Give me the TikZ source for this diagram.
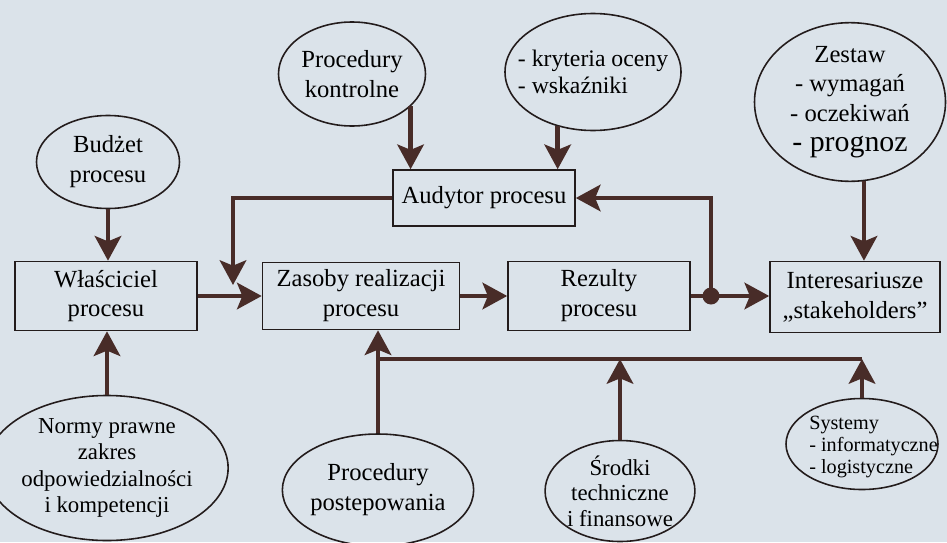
\documentclass[tikz,border=0pt]{standalone}
\usepackage{fontspec}
\setmainfont{Liberation Serif}
\usetikzlibrary{shapes.geometric,arrows.meta}
\definecolor{tlo}{RGB}{219,227,234}
\definecolor{strzalka}{RGB}{72,44,40}
\definecolor{ramka}{RGB}{35,28,28}

\begin{document}
\begin{tikzpicture}
	\tikzstyle{box}=[draw=ramka,line width=0.9pt,minimum width=3.64cm,minimum height=1.38cm,align=center,font=\fontsize{14}{17}\selectfont]
	\tikzstyle{oval}=[ellipse,draw=ramka,line width=0.9pt,inner sep=0pt,align=center,font=\fontsize{14}{17}\selectfont]
	\tikzstyle{edge}=[draw=strzalka,line width=2.6pt,-{Stealth[length=14pt,width=15pt,inset=3pt]}]
	\tikzstyle{bus}=[draw=strzalka,line width=2.6pt]

	\fill[tlo] (0,0) rectangle (18.94,10.84);
	\useasboundingbox (0,0) rectangle (18.94,10.84);

	% prostokaty
	\node [box] (wlasc) at (2.12,4.92) {Właściciel\\procesu};
	\node [box,minimum width=3.94cm,minimum height=1.34cm] (zasoby) at (7.22,4.92) {Zasoby realizacji\\procesu};
	\node [box] (rezult) at (11.98,4.92) {Rezulty\\procesu};
	\node [box,minimum width=3.40cm,minimum height=1.42cm] (inter) at (17.10,4.90) {Interesariusze\\„stakeholders”};
	\node [box,minimum height=1.12cm] (audytor) at (9.68,6.88) {Audytor procesu};

	% elipsy
	\node [oval,minimum width=2.86cm,minimum height=1.86cm] (budzet) at (2.16,7.60) {Budżet\\procesu};
	\node [oval,minimum width=2.94cm,minimum height=2.08cm] (prockontr) at (7.04,9.36) {Procedury\\kontrolne};
	\node [oval,minimum width=3.52cm,minimum height=2.34cm,inner xsep=-9pt,align=left,font=\fontsize{13.5}{15.5}\selectfont] (kryteria) at (11.86,9.40) {- kryteria oceny\\- wskaźniki};
	\node [oval,minimum width=3.82cm,minimum height=2.90cm] (zestaw) at (17.00,8.80) {Zestaw\\- wymagań\\- oczekiwań\\{\fontsize{17}{19}\selectfont - prognoz}};
	\node [oval,minimum width=3.98cm,minimum height=2.90cm,font=\fontsize{13}{15}\selectfont] (normy) at (2.14,1.48) {Normy prawne\\zakres\\odpowiedzialności\\i kompetencji};
	\node [oval,minimum width=3.50cm,minimum height=2.24cm] (procpost) at (7.56,1.04) {Procedury\\postepowania};
	\node [oval,minimum width=2.98cm,minimum height=2.02cm,font=\fontsize{13}{14.5}\selectfont] (srodki) at (12.40,1.02) {Środki\\techniczne\\i finansowe};
	\node [oval,minimum width=3.04cm,minimum height=1.82cm] (systemy) at (17.24,1.96) {};
	\node [align=left,inner sep=0pt,font=\fontsize{11.5}{12.5}\selectfont] (systemyopis) at (17.47,1.90) {Systemy\\- informatyczne\\- logistyczne};

	\coordinate (wezel) at (14.22,4.92);
	\coordinate (wejscie) at (4.66,5.14);
	\coordinate (poziom) at (0,3.66);

	\path[edge] (budzet.south) -- (budzet.south |- wlasc.north);
	\path[edge] (prockontr.-29) -- (prockontr.-29 |- audytor.north);
	\path[edge] (kryteria.-123) -- (kryteria.-123 |- audytor.north);
	\path[edge] (zestaw.-80) -- (zestaw.-80 |- inter.north);
	\path[edge] (normy.north) -- (normy.north |- wlasc.south);
	\path[edge] (procpost.north) -- (procpost.north |- zasoby.south);
	\path[edge] (wlasc) -- (zasoby);
	\path[edge] (zasoby) -- (rezult);
	\path[edge] (rezult.east) -- (rezult.east -| inter.west);
	\fill[strzalka] (wezel) circle (0.17);
	\path[edge] (wezel) |- (audytor.east);
	\path[edge] (audytor.west) -| (wejscie);
	\path[bus] (procpost.north |- poziom) -- (systemy.north |- poziom);
	\path[edge] (srodki.north) -- (srodki.north |- poziom);
	\path[edge] (systemy.north) -- (systemy.north |- poziom);

\end{tikzpicture}
\end{document}
